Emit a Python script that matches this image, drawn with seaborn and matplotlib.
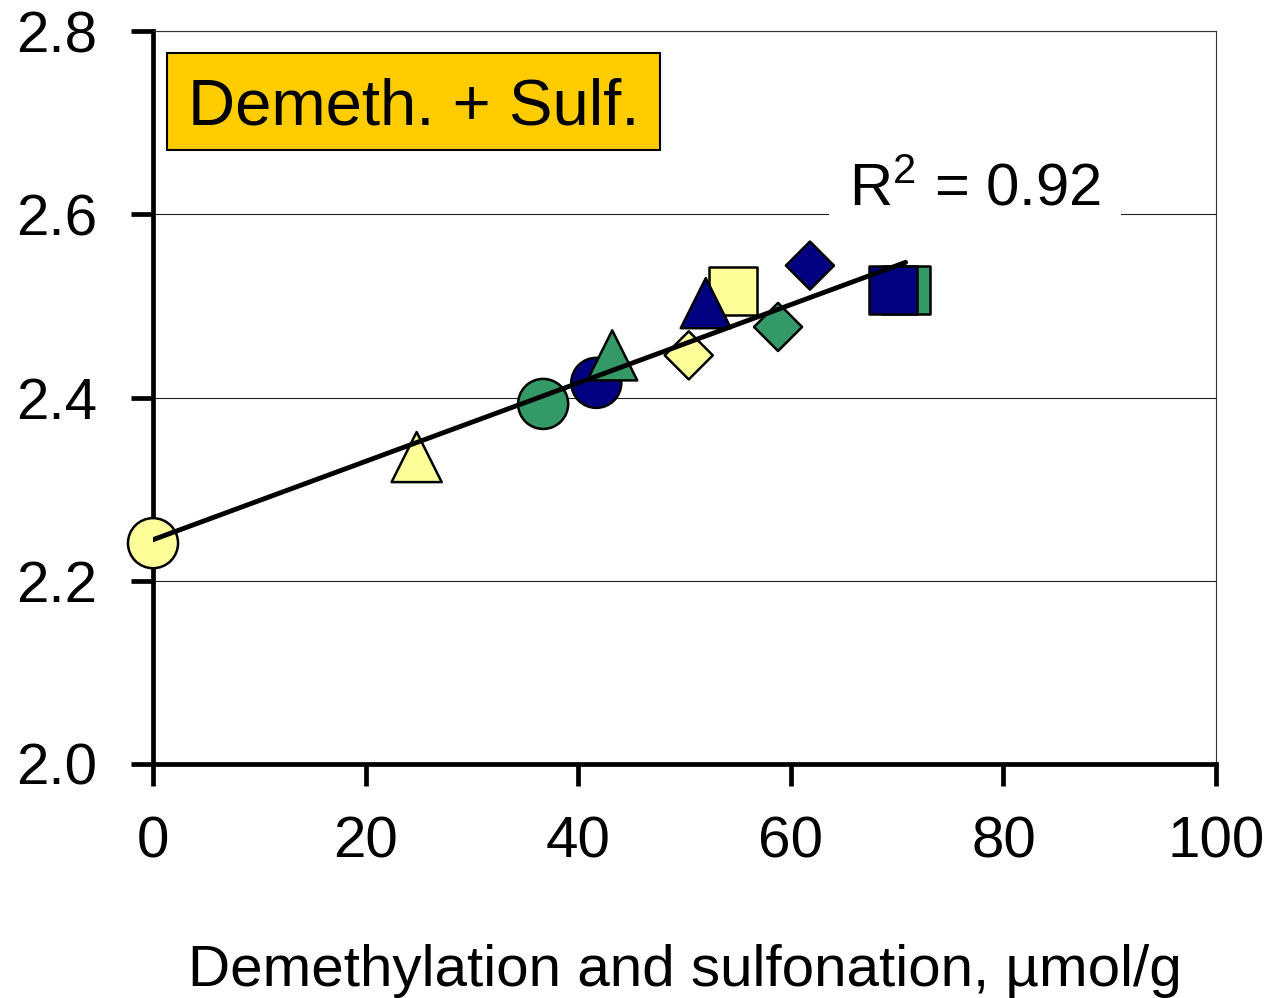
import pandas as pd
import seaborn as sns
import matplotlib.pyplot as plt
from matplotlib.patches import Rectangle

# values
demeth_sulf = [0.0, 36.7, 41.7, 54.6, 70.8, 69.6, 50.4, 58.8, 61.8, 24.8, 43.2, 52.0]
response = [2.241, 2.393, 2.416, 2.516, 2.517, 2.517, 2.446, 2.477, 2.544, 2.335, 2.446, 2.503]
series = ['yellow', 'green', 'navy', 'yellow', 'green', 'navy',
          'yellow', 'green', 'navy', 'yellow', 'green', 'navy']
shape = ['circle', 'circle', 'circle', 'square', 'square', 'square',
         'diamond', 'diamond', 'diamond', 'triangle', 'triangle', 'triangle']

x_ticks = [0, 20, 40, 60, 80, 100]
y_ticks = [2.0, 2.2, 2.4, 2.6, 2.8]
box_label = 'Demeth. + Sulf.'
r2_label = r'R$^{2}$ = 0.92'
x_label = 'Demethylation and sulfonation, \u00b5mol/g'

df = pd.DataFrame({'x': demeth_sulf, 'y': response, 'series': series, 'shape': shape})

palette = {'yellow': '#FFFF99', 'green': '#339966', 'navy': '#000080'}
markers = {'circle': ('o', 1300), 'square': ('s', 1190), 'diamond': ('D', 600), 'triangle': ('^', 1300)}

sns.set_style('white')
plt.rcParams['font.family'] = ['Liberation Sans', 'DejaVu Sans']
plt.rcParams['mathtext.fontset'] = 'custom'
plt.rcParams['mathtext.rm'] = 'Liberation Sans'
plt.rcParams['mathtext.it'] = 'Liberation Sans'
plt.rcParams['text.color'] = 'black'
plt.rcParams['axes.labelcolor'] = 'black'
plt.rcParams['xtick.color'] = 'black'
plt.rcParams['ytick.color'] = 'black'

fig = plt.figure(figsize=(12.74, 9.98), dpi=100)
ax = fig.add_axes([0.1201, 0.2345, 0.8344, 0.7344])

for shp, (m, s) in markers.items():
    sub = df[df['shape'] == shp]
    sns.scatterplot(data=sub, x='x', y='y', hue='series', palette=palette, marker=m, s=s,
                    edgecolor='black', linewidth=1.8, legend=False, ax=ax, zorder=3, clip_on=False)

sns.regplot(data=df, x='x', y='y', scatter=False, ci=None, truncate=True, ax=ax,
            line_kws=dict(color='black', lw=3.5, zorder=4))

ax.set_xlim(0, 100)
ax.set_ylim(2.0, 2.8)
ax.set_xticks(x_ticks)
ax.set_yticks(y_ticks)
ax.set_yticklabels([f'{v:.1f}' for v in y_ticks])
ax.yaxis.grid(True, color='#222222', lw=0.8)
ax.set_axisbelow(True)

for side in ['left', 'bottom']:
    ax.spines[side].set_linewidth(3.4)
    ax.spines[side].set_color('black')
for side in ['top', 'right']:
    ax.spines[side].set_linewidth(0.8)
    ax.spines[side].set_color('#333333')

ax.tick_params(bottom=True, left=True, direction='out', length=16, width=3.4,
               color='black', labelcolor='black', labelsize=42)
ax.tick_params(axis='x', pad=21)
ax.tick_params(axis='y', pad=24)
ax.set_xlabel(x_label, fontsize=42, labelpad=54, color='black')
ax.set_ylabel('')

ax.add_patch(Rectangle((0.0132, 0.8377), 0.4638, 0.1323, transform=ax.transAxes,
                       facecolor='#FFCC00', edgecolor='black', lw=1.5, zorder=5))
ax.text(0.2451, 0.8731, box_label, transform=ax.transAxes, ha='center', va='baseline',
        fontsize=47, zorder=6, color='black')
ax.text(0.7733, 0.7626, r2_label, transform=ax.transAxes, ha='center', va='baseline',
        fontsize=43, zorder=6, color='black',
        bbox=dict(facecolor='white', edgecolor='none', pad=14))

fig.savefig('out.png', dpi=100)
